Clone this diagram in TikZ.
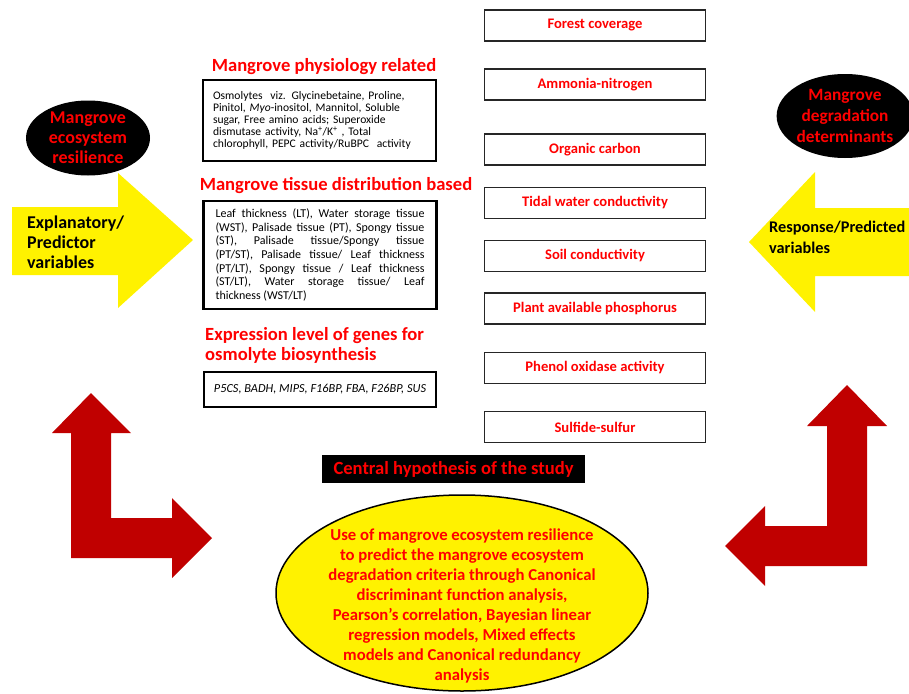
\documentclass[tikz,border=0pt]{standalone}
\usepackage{fontspec}
\setmainfont{Carlito}
\usetikzlibrary{positioning,shapes.geometric}
\definecolor{arrowred}{HTML}{C00000}
\hyphenpenalty=10000
\exhyphenpenalty=10000

\begin{document}
\begin{tikzpicture}[
        x=1pt,
        y=-1pt,
        determinant/.style={draw=black!85, line width=1.6pt, minimum width=221pt, minimum height=31pt, inner sep=0pt, text=red, font=\fontsize{14.6}{17}\selectfont\bfseries},
        heading/.style={text=red, inner sep=0pt, font=\fontsize{18.6}{20}\selectfont\bfseries},
        traitbox/.style={draw=black, line width=2.4pt, inner xsep=10pt, inner ysep=0pt, font=\fontsize{11.6}{12}\selectfont},
        blob/.style={ellipse, fill=black, text=red, inner sep=0pt, align=center, font=\fontsize{18}{20}\selectfont\bfseries},
        bigarrow/.style={fill=yellow},
        turnarrow/.style={fill=arrowred},
        arrowtext/.style={anchor=west, align=left, inner sep=0pt, font=\fontsize{18}{20}\selectfont\bfseries}
    ]
        \useasboundingbox (0,0) rectangle (909,693);

        % yellow block arrows
        \fill[bigarrow] (12,207) -- (118,207) -- (118,173) -- (193,240)
            -- (118,308) -- (118,275) -- (12,275) -- cycle;
        \fill[bigarrow] (909,208) -- (815,208) -- (815,172) -- (749,242)
            -- (815,312) -- (815,276) -- (909,276) -- cycle;

        % red bent arrows
        \fill[turnarrow] (91,393) -- (131,433) -- (111,433) -- (111,518)
            -- (172,518) -- (172,498) -- (212,538) -- (172,578) -- (172,558)
            -- (71,558) -- (71,433) -- (52,433) -- cycle;
        \fill[turnarrow] (847,385) -- (887,426) -- (867,426) -- (867,566)
            -- (765,566) -- (765,586) -- (725,546) -- (765,506) -- (765,526)
            -- (827,526) -- (827,426) -- (807,426) -- cycle;

        \node[blob, minimum width=124pt, minimum height=75pt] (resilience) at (88,138) {Mangrove\\ecosystem\\resilience};
        \node[blob, minimum width=126pt, minimum height=84pt, font=\fontsize{17.3}{21}\selectfont\bfseries] (degradation) at (845,116) {Mangrove\\degradation\\determinants};

        \node[arrowtext] (explanatory) at (27,242) {Explanatory/\\Predictor\\variables};
        \node[arrowtext, font=\fontsize{16.3}{21}\selectfont\bfseries] (response) at (769,237) {Response/Predicted\\variables};

        % explanatory variables
        \node[heading] (physiohead) at (324,67) {Mangrove physiology related};
        \node[traitbox, text width=213pt, minimum height=81pt, align=left] (physio) at (319.5,120.5)
            {Osmolytes\ \ viz. Glycinebetaine, Proline,\\Pinitol, \textit{Myo}-inositol, Mannitol, Soluble\\sugar, Free amino acids; Superoxide\\dismutase activity, Na\textsuperscript{+}/K\textsuperscript{+}\ , Total\\chlorophyll, PEPC activity/RuBPC\ \ activity};

        \node[heading] (tissuehead) at (336,186) {Mangrove tissue distribution based};
        \node[traitbox, text width=209pt, inner xsep=12pt, minimum height=108pt, align=justify, font=\fontsize{12}{13.7}\selectfont] (tissue) at (320,255)
            {Leaf thickness (LT), Water storage tissue\linebreak (WST), Palisade tissue (PT), Spongy tissue\linebreak (ST), Palisade tissue/Spongy tissue\linebreak (PT/ST), Palisade tissue/ Leaf thickness\linebreak (PT/LT), Spongy tissue / Leaf thickness\linebreak (ST/LT), Water storage tissue/ Leaf\linebreak thickness (WST/LT)};

        \node[heading, anchor=west, align=left] (genehead) at (205,345) {Expression level of genes for\\osmolyte biosynthesis};
        \node[traitbox, minimum width=232pt, minimum height=35pt, font=\fontsize{12.3}{14}\selectfont\itshape] (genes) at (320,389.5)
            {P5CS, BADH, MIPS, F16BP, FBA, F26BP, SUS};

        % response variables
        \node[determinant] (forest) at (595,25.5) {Forest coverage};
        \node[determinant] (ammonia) at (595,84.5) {Ammonia-nitrogen};
        \node[determinant] (carbon) at (595,149.5) {Organic carbon};
        \node[determinant] (tidal) at (595,203) {Tidal water conductivity};
        \node[determinant] (soil) at (595,256) {Soil conductivity};
        \node[determinant] (phosphorus) at (595,308.5) {Plant available phosphorus};
        \node[determinant] (phenol) at (595,368) {Phenol oxidase activity};
        \node[determinant] (sulfide) at (595,427) {Sulfide-sulfur};

        % hypothesis
        \node[fill=black, text=red, minimum width=263pt, minimum height=28pt, inner sep=0pt, font=\fontsize{18.6}{20}\selectfont\bfseries] (central) at (453.5,469) {Central hypothesis of the study};
        \draw[fill=yellow, line width=1.5pt] (462,593) ellipse [x radius=186, y radius=98];
        \node[text=red, align=center, inner sep=0pt, font=\fontsize{16.7}{20}\selectfont\bfseries] (hypothesis) at (462,606)
            {Use of mangrove ecosystem resilience\\to predict the mangrove ecosystem\\degradation criteria through Canonical\\discriminant function analysis,\\Pearson’s correlation, Bayesian linear\\regression models, Mixed effects\\models and Canonical redundancy\\analysis};
    \end{tikzpicture}
\end{document}
